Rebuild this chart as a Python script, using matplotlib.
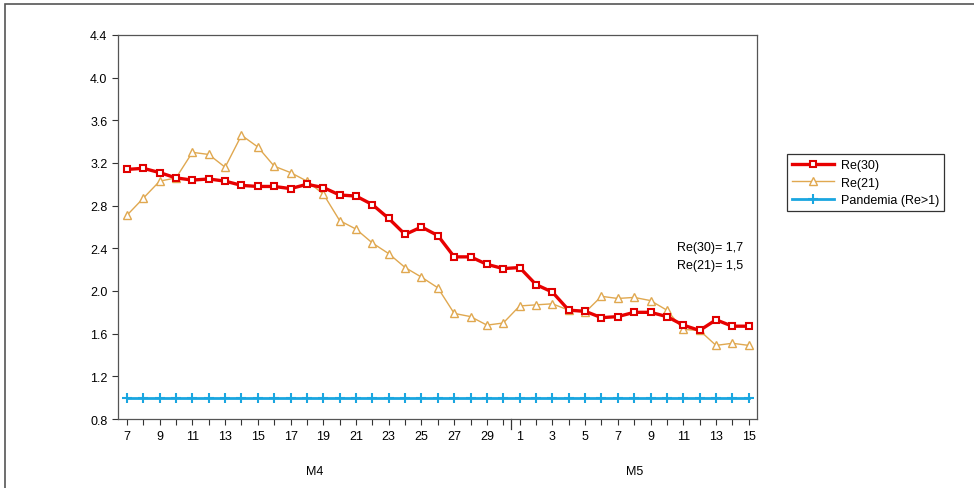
import matplotlib.pyplot as plt
import numpy as np
from matplotlib.patches import Rectangle

plt.rcParams['font.family'] = ['Liberation Sans', 'DejaVu Sans']

# Days: April 7..30, May 1..15
days = list(range(7, 31)) + list(range(1, 16))

re30 = [3.14, 3.15, 3.11, 3.06, 3.04, 3.05, 3.03, 2.99, 2.98, 2.98,
        2.96, 3.00, 2.97, 2.90, 2.89, 2.81, 2.68, 2.53, 2.60, 2.52,
        2.32, 2.32, 2.25, 2.21, 2.22, 2.06, 1.99, 1.82, 1.81, 1.75,
        1.76, 1.80, 1.80, 1.76, 1.68, 1.63, 1.73, 1.67, 1.67]

re21 = [2.71, 2.87, 3.03, 3.06, 3.30, 3.28, 3.16, 3.46, 3.35, 3.17,
        3.11, 3.03, 2.91, 2.66, 2.58, 2.45, 2.35, 2.22, 2.13, 2.03,
        1.79, 1.76, 1.68, 1.70, 1.86, 1.87, 1.88, 1.82, 1.80, 1.95,
        1.93, 1.94, 1.91, 1.82, 1.64, 1.63, 1.49, 1.51, 1.49]

pandemia = [1.0] * len(days)

y_ticks = [0.8, 1.2, 1.6, 2.0, 2.4, 2.8, 3.2, 3.6, 4.0, 4.4]
month_labels = ['M4', 'M5']
note_text = 'Re(30)= 1,7\nRe(21)= 1,5'

x = np.arange(len(days))

fig = plt.figure(figsize=(9.74, 4.89), dpi=100)
ax = fig.add_axes([0.1211, 0.1411, 0.656, 0.7853])

# outer frame of the picture
fig.patches.append(Rectangle((5 / 974, -0.01), 1.0, 1 - 5 / 489 + 0.01,
                             transform=fig.transFigure, fill=False,
                             edgecolor='#555555', linewidth=1.2))

ax.plot(x, re30, color='#e80000', linewidth=2.4, marker='s', markersize=5,
        markerfacecolor='white', markeredgecolor='#e00000', markeredgewidth=1.5,
        label='Re(30)', zorder=3)
ax.plot(x, re21, color='#e0a850', linewidth=1.0, marker='^', markersize=6,
        markerfacecolor='white', markeredgecolor='#e0a850', markeredgewidth=1.0,
        label='Re(21)', zorder=2)
ax.plot(x, pandemia, color='#1aa6e0', linewidth=2.0, marker='+', markersize=7,
        markeredgewidth=1.5, label='Pandemia (Re>1)', zorder=2)

ax.set_xlim(-0.55, len(days) - 0.5)
ax.set_ylim(0.8, 4.4)
ax.set_yticks(y_ticks)
ax.set_yticklabels([f'{v:.1f}' for v in y_ticks])

ax.set_xticks(x, minor=True)
label_idx = [i for i in x if i % 2 == 0]
ax.set_xticks(label_idx)
ax.set_xticklabels([str(days[i]) for i in label_idx])
ax.tick_params(axis='x', which='both', length=4, width=0.8, direction='out',
               labelsize=9, pad=4, color='#333333')
ax.tick_params(axis='y', length=4, width=0.8, labelsize=9, color='#333333')

# longer tick at month boundary
split = days.index(1) - 0.5
ax.plot([split, split], [0, -0.027], transform=ax.get_xaxis_transform(),
        color='#333333', linewidth=0.9, clip_on=False)

ax.text(np.mean(x[:24]), -0.12, month_labels[0], transform=ax.get_xaxis_transform(),
        ha='center', va='top', fontsize=9)
ax.text(np.mean(x[24:]), -0.12, month_labels[1], transform=ax.get_xaxis_transform(),
        ha='center', va='top', fontsize=9)

for s in ax.spines.values():
    s.set_color('#555555')
    s.set_linewidth(0.9)

ax.text(0.979, 0.4245, note_text, transform=ax.transAxes, ha='right', va='center',
        fontsize=9, linespacing=1.6)

leg = ax.legend(loc='upper left', bbox_to_anchor=(1.047, 0.69), frameon=True,
                fancybox=False, edgecolor='black', fontsize=9, handlelength=3.4,
                borderpad=0.4, labelspacing=0.45, handletextpad=0.5,
                borderaxespad=0)
leg.get_frame().set_linewidth(0.9)

fig.savefig('out.png', dpi=100)
